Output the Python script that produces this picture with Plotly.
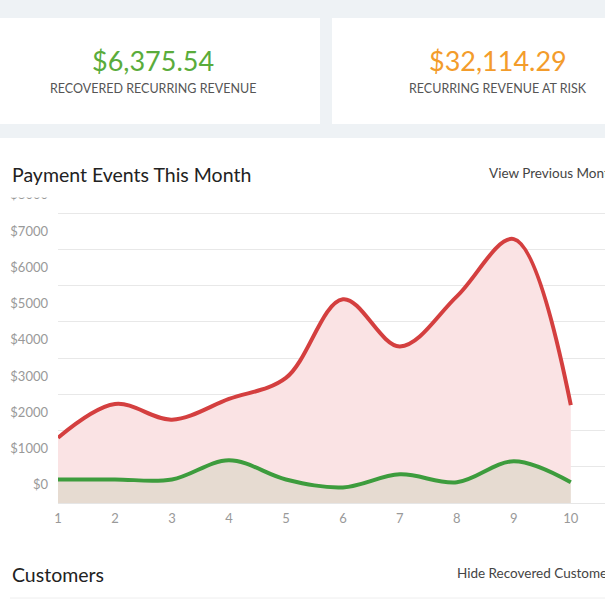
import plotly.graph_objects as go

days = [1, 2, 3, 4, 5, 6, 7, 8, 9, 10]
at_risk = [1300, 2230, 1800, 2370, 2950, 5120, 3820, 5200, 6780, 2200]
recovered = [150, 150, 150, 680, 150, -70, 290, 70, 650, 70]

y_ticks = [0, 1000, 2000, 3000, 4000, 5000, 6000, 7000, 8000]
y_labels = ["$" + str(v) for v in y_ticks]
grid_vals = [-500, 500, 1500, 2500, 3500, 4500, 5500, 6500, 7500]
y_min = -500

W, H = 605, 605
L, R, T, B = 58, 0, 194, 102
PW, PH = W - L - R, H - T - B


def px(x):
    return (x - L) / PW


def py(y):
    return (H - B - y) / PH


fig = go.Figure()

# baseline so both areas fill down to the bottom of the chart
fig.add_trace(go.Scatter(x=days, y=[y_min] * len(days), mode="lines",
                         line=dict(width=0), hoverinfo="skip", showlegend=False))
fig.add_trace(go.Scatter(x=days, y=recovered, mode="lines", fill="tonexty",
                         fillcolor="#e6dbd1", line=dict(color="#3d9c3d", width=4, shape="spline", smoothing=1),
                         showlegend=False))
fig.add_trace(go.Scatter(x=days, y=at_risk, mode="lines", fill="tonexty",
                         fillcolor="#fae3e4", line=dict(color="#d43f3f", width=4, shape="spline", smoothing=1),
                         showlegend=False))

font = "Lato, Open Sans, sans-serif"

shapes = [
    dict(type="rect", xref="paper", yref="paper", x0=px(0), x1=px(W), y0=py(0), y1=py(138),
         fillcolor="#eef2f5", line_width=0, layer="below"),
    dict(type="rect", xref="paper", yref="paper", x0=px(0), x1=px(320), y0=py(18), y1=py(124),
         fillcolor="white", line_width=0, layer="below"),
    dict(type="rect", xref="paper", yref="paper", x0=px(332), x1=px(W), y0=py(18), y1=py(124),
         fillcolor="white", line_width=0, layer="below"),
    # hides the top of the clipped $8000 label
    dict(type="rect", xref="paper", yref="paper", x0=px(0), x1=px(56), y0=py(180), y1=py(197.5),
         fillcolor="white", line_width=0, layer="above"),
    dict(type="line", xref="paper", yref="paper", x0=px(10), x1=px(W), y0=py(598), y1=py(598),
         line=dict(color="#eeeeee", width=1)),
]

annotations = [
    dict(text="$6,375.54", x=px(153), y=py(60), font=dict(size=27, color="#5aac3b")),
    dict(text="RECOVERED RECURRING REVENUE", x=px(153), y=py(89), font=dict(size=12.5, color="#555555")),
    dict(text="$32,114.29", x=px(498), y=py(60), font=dict(size=27, color="#f39c2b")),
    dict(text="RECURRING REVENUE AT RISK", x=px(498), y=py(89), font=dict(size=12.5, color="#555555")),
    dict(text="Payment Events This Month", x=px(10), y=py(174), xanchor="left", font=dict(size=19.5, color="#222222")),
    dict(text="View Previous Month", x=px(487), y=py(173), xanchor="left", font=dict(size=13.5, color="#444444")),
    dict(text="Customers", x=px(10), y=py(574), xanchor="left", font=dict(size=19.5, color="#222222")),
    dict(text="Hide Recovered Customers", x=px(455), y=py(573), xanchor="left", font=dict(size=13.5, color="#444444")),
]
for a in annotations:
    a.update(xref="paper", yref="paper", showarrow=False, yanchor="middle", font_family=font)
    a.setdefault("xanchor", "center")

fig.update_layout(
    width=W, height=H,
    margin=dict(l=L, r=R, t=T, b=B),
    paper_bgcolor="white",
    plot_bgcolor="rgba(0,0,0,0)",
    font=dict(family=font, color="#999999", size=12),
    shapes=shapes,
    annotations=annotations,
    hovermode=False,
)
fig.update_xaxes(range=[1, 10.6], tickvals=days, showgrid=False, zeroline=False,
                 showline=True, linecolor="#e6e6e6", linewidth=1, ticklabelstandoff=3,
                 tickfont=dict(size=13, color="#999999"))
fig.update_yaxes(range=[y_min, y_min + PH / 0.03625], tickvals=y_ticks, ticktext=y_labels,
                 showgrid=False, zeroline=False, ticklabelstandoff=9,
                 tickfont=dict(size=13, color="#999999"),
                 minor=dict(tickvals=grid_vals, showgrid=True, gridcolor="#e8e8e8", gridwidth=1))

fig.write_html("out.html", config={"displayModeBar": False},
               post_script="document.body.style.margin='0';")
